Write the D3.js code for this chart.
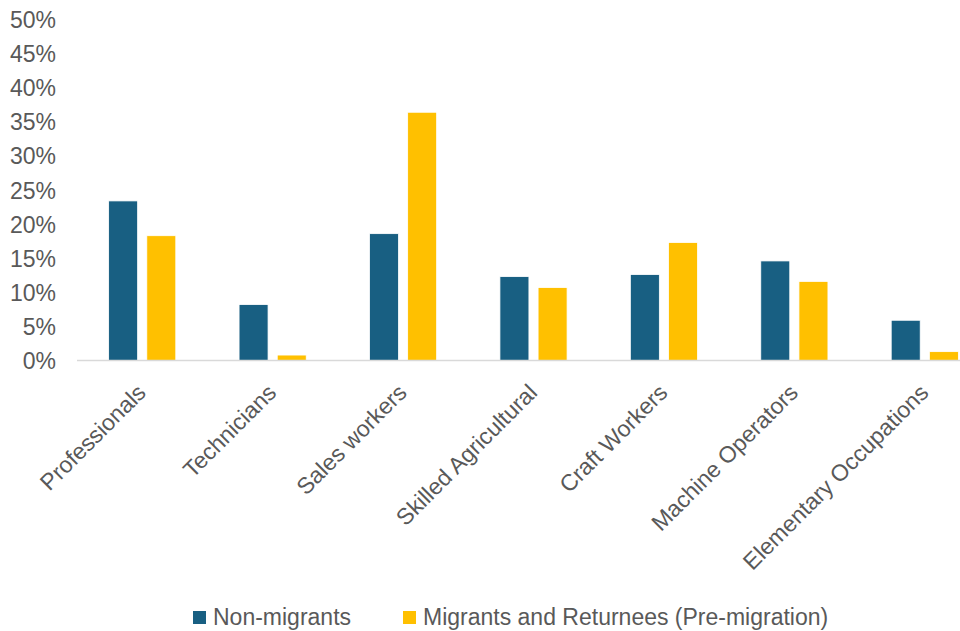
<!DOCTYPE html>
<html>
<head>
<meta charset="utf-8">
<script src="https://cdn.jsdelivr.net/npm/d3@7"></script>
<style>
  html, body { margin: 0; padding: 0; background: #fff; }
  text { font-family: "Liberation Sans", Arial, sans-serif; }
</style>
</head>
<body>
<svg id="chart" width="960" height="631"></svg>
<script>
const categories = ["Professionals", "Technicians", "Sales workers", "Skilled Agricultural",
  "Craft Workers", "Machine Operators", "Elementary Occupations"];
const seriesNames = ["Non-migrants", "Migrants and Returnees (Pre-migration)"];
const nonMigrants = [0.234, 0.082, 0.186, 0.123, 0.126, 0.146, 0.059];
const migrants = [0.183, 0.008, 0.364, 0.107, 0.173, 0.116, 0.013];
const yTicks = [0, 0.05, 0.10, 0.15, 0.20, 0.25, 0.30, 0.35, 0.40, 0.45, 0.50];
const colors = ["#185F82", "#FFC000"];

const svg = d3.select("#chart");
const x0 = d3.scaleBand().domain(categories).range([77, 990]).paddingInner(0).paddingOuter(0);
const step = x0.bandwidth();
const groupInner = 0.515;
const x1 = d3.scaleBand().domain(seriesNames)
  .range([step * (1 - groupInner) / 2, step * (1 + groupInner) / 2]).paddingInner(0.24);
const y = d3.scaleLinear().domain([0, 0.5]).range([360.5, 19.5]);

// y axis labels
const yAxis = d3.axisLeft(y).tickValues(yTicks).tickFormat(d3.format(".0%")).tickSize(0).tickPadding(0);
const gy = svg.append("g").attr("transform", "translate(56,0)").call(yAxis);
gy.select(".domain").remove();
gy.selectAll("text").attr("fill", "#595959").style("font-size", "23px")
  .style("font-family", "'Liberation Sans', Arial, sans-serif").attr("dy", "0.35em");

// bars
const data = categories.map((c, i) => ({ cat: c, vals: [nonMigrants[i], migrants[i]] }));
const groups = svg.append("g").selectAll("g").data(data).join("g")
  .attr("transform", d => `translate(${x0(d.cat)},0)`);
groups.selectAll("rect").data(d => d.vals.map((v, j) => ({ v, j })))
  .join("rect")
  .attr("x", d => x1(seriesNames[d.j]))
  .attr("width", x1.bandwidth())
  .attr("y", d => y(d.v))
  .attr("height", d => y(0) - y(d.v))
  .attr("fill", d => colors[d.j])
  .attr("stroke", "#ffffff").attr("stroke-width", 0.8);

// x axis line
svg.append("line").attr("x1", 77).attr("x2", 960).attr("y1", y(0)).attr("y2", y(0))
  .attr("stroke", "#D9D9D9").attr("stroke-width", 1.5);

// category labels
svg.append("g").selectAll("text").data(categories).join("text")
  .attr("transform", d => `translate(${x0(d) + step / 2 + 5},394) rotate(-45)`)
  .attr("text-anchor", "end")
  .attr("fill", "#595959")
  .style("font-size", "23px")
  .text(d => d);

// legend
const legendX = [193, 403];
const lg = svg.append("g").selectAll("g").data(seriesNames).join("g")
  .attr("transform", (d, i) => `translate(${legendX[i]},611)`);
lg.append("rect").attr("width", 13).attr("height", 13).attr("fill", (d, i) => colors[i]);
lg.append("text").attr("x", 20).attr("y", 14).attr("fill", "#595959")
  .style("font-size", "23px").text(d => d);
</script>
</body>
</html>
